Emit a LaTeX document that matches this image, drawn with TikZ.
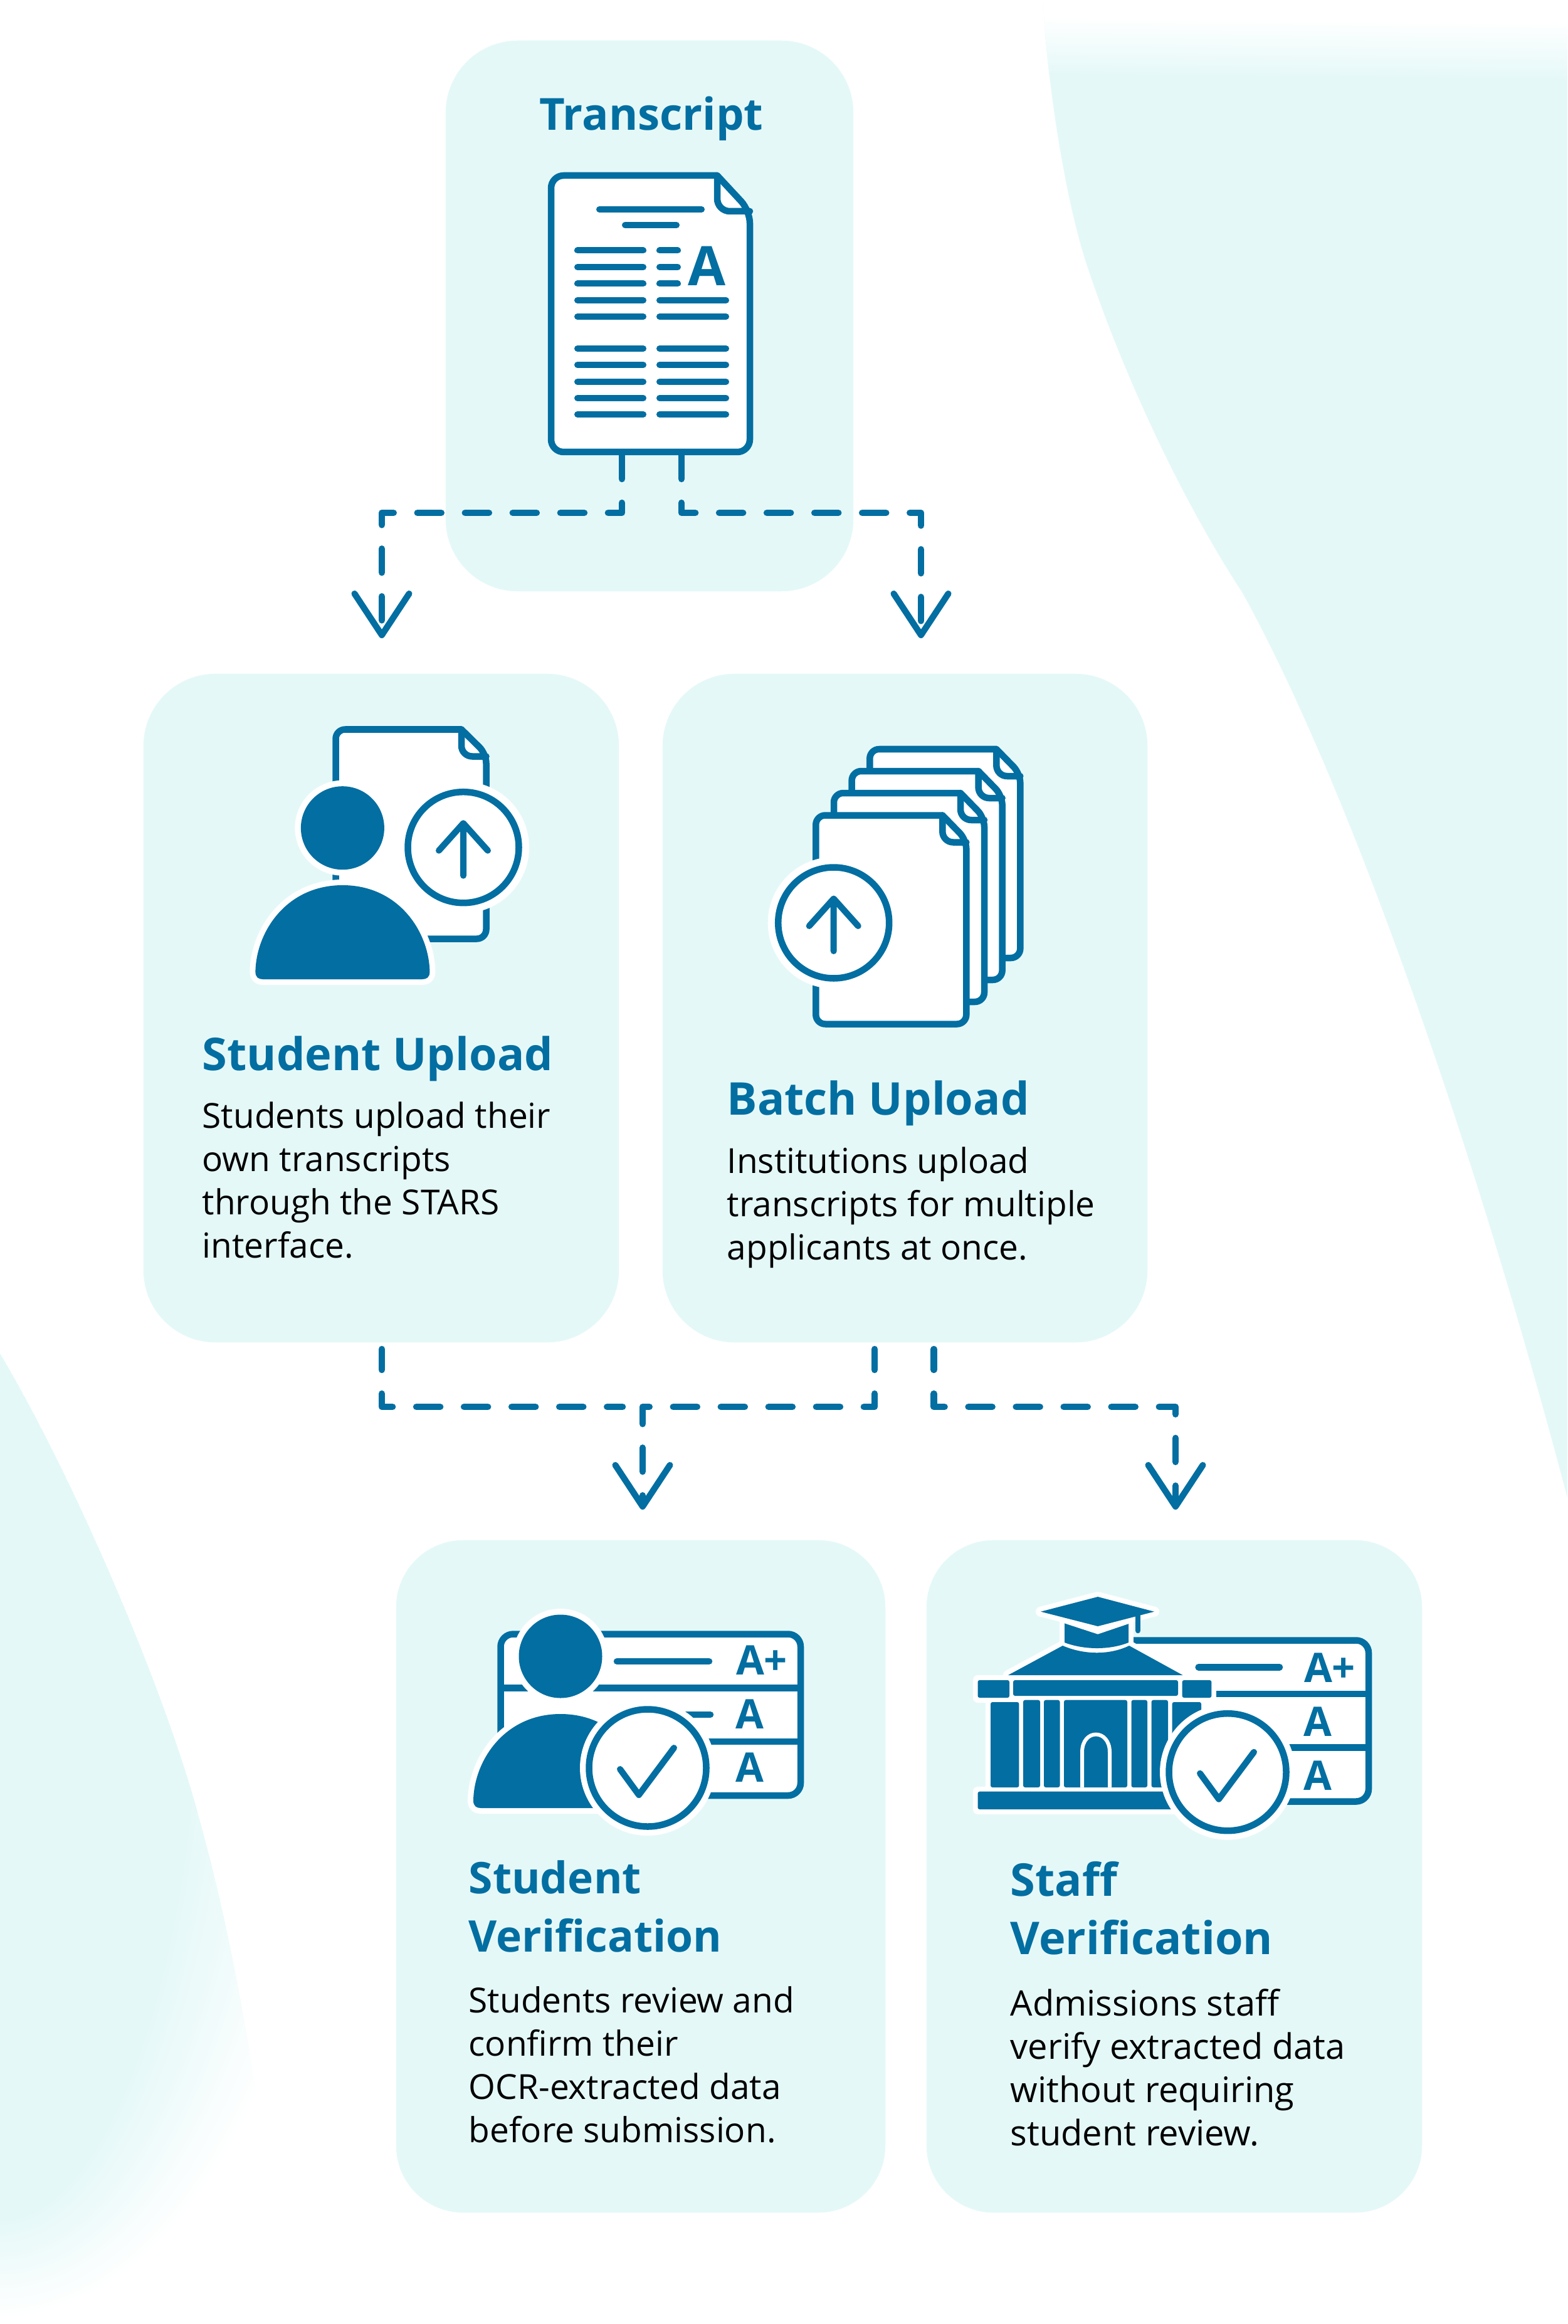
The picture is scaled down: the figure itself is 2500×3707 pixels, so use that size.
\documentclass[tikz,border=0pt]{standalone}
\usepackage{fontspec}
\usetikzlibrary{arrows.meta,shapes.geometric}
\setmainfont{Open Sans}
\definecolor{boxc}{HTML}{E5F8F8}
\definecolor{bluec}{HTML}{026EA1}
\tikzset{
  card/.style={fill=boxc,draw=none,rounded corners=#1,inner sep=0pt},
  head/.style={anchor=base west,inner sep=0pt,text=bluec,align=left,font=\bfseries\fontsize{7.2mm}{9.2mm}\selectfont},
  body/.style={anchor=base west,inner sep=0pt,text=black,align=left,font=\fontsize{5.5mm}{6.87mm}\selectfont},
  conn/.style={draw=bluec,line width=1.05mm,line cap=round,line join=round,dash pattern=on 3.8mm off 3.8mm,
     -{Straight Barb[length=6.6mm,width=8.7mm,line width=1mm,round]}},
  connend/.style={draw=bluec,line width=1.05mm,line cap=round,line join=round,dash pattern=on 3.8mm off 3.8mm},
  line/.style={draw=bluec,line width=1.05mm,line cap=round,line join=round},
  thin/.style={draw=bluec,line width=1mm,line cap=round,line join=round},
  ring/.style={fill=white,draw=white,line width=1.8mm,line join=round},
  grade/.style={inner sep=0pt,text=bluec,anchor=base,font=\bfseries\fontsize{6.5mm}{6.5mm}\selectfont},
}
% page with folded corner: x, y, w, h, fold w, fold h
\newcommand{\pageicon}[6]{%
  \begin{scope}[shift={(#1,#2)}]
    \draw[line,fill=white] (#3-#5,0) [rounded corners=1.5mm] -- (0,0) -- (0,#4) -- (#3,#4) -- (#3,#6) [sharp corners] -- cycle;
    \draw[line] (#3-#5,0) [rounded corners=1.7mm] -- (#3-#5,#6+4) -- (#3,#6+4);
  \end{scope}}
% circle with arrow: cx, cy
\newcommand{\uparrowdisc}[2]{%
  \begin{scope}[shift={(#1,#2)}]
    \fill[white] (0,0) circle[radius=105];
    \draw[line] (0,0) circle[radius=88.5];
    \draw[thin] (-39,5) -- (0,-38.5) -- (39,5) (0,-38.5) -- (0,45);
  \end{scope}}
% circle with tick: cx, cy
\newcommand{\tickdisc}[2]{%
  \begin{scope}[shift={(#1,#2)}]
    \fill[white] (0,0) circle[radius=108];
    \draw[line,line width=1.05mm] (0,0) circle[radius=93.5];
    \draw[thin] (-44,2) -- (-14,43) -- (42,-32);
  \end{scope}}
% person: head centre x, head centre y, body top y
\newcommand{\person}[3]{%
  \fill[white] (#1,#2) circle[radius=76];
  \fill[bluec] (#1,#2) circle[radius=66.5];
  \begin{scope}[shift={(#1,#3)}]
    \path[ring] (-139,138) .. controls (-138,75) and (-90,0) .. (0,0) .. controls (90,0) and (138,75) .. (139,138) .. controls (139,147) and (134,150) .. (127,150) -- (-127,150) .. controls (-134,150) and (-139,147) .. (-139,138) -- cycle;
    \fill[bluec] (-139,138) .. controls (-138,75) and (-90,0) .. (0,0) .. controls (90,0) and (138,75) .. (139,138) .. controls (139,147) and (134,150) .. (127,150) -- (-127,150) .. controls (-134,150) and (-139,147) .. (-139,138) -- cycle;
  \end{scope}}
\begin{document}
\begin{tikzpicture}[x=0.01cm,y=-0.01cm]
\useasboundingbox (0,0) rectangle (2500,3707);
\fill[white] (0,0) rectangle (2500,3707);

% ---- background shapes
\begin{scope}
  \clip (1664,0) .. controls (1668,120) and (1700,330) .. (1738,436)
     .. controls (1790,590) and (1880,790) .. (1982,946)
     .. controls (2150,1250) and (2350,1820) .. (2500,2389) -- (2500,0) -- cycle;
  \fill[boxc] (1600,0) rectangle (2500,2400);
  \begin{scope}[rotate around={-0.6:(2080,80)}]
    \fill[white] (1500,-200) rectangle (2700,32);
    \foreach \i in {0,...,27} {
      \pgfmathsetmacro{\pc}{\i/27*100}
      \pgfmathsetmacro{\ya}{30+3.4*\i}
      \fill[boxc!\pc!white] (1500,\ya) rectangle (2700,\ya+4);
    }
  \end{scope}
\end{scope}
\begin{scope}
  \clip (0,2160) .. controls (130,2380) and (270,2720) .. (317,2900)
     .. controls (370,3090) and (420,3350) .. (450,3707) -- (0,3707) -- cycle;
  \foreach \i in {0,...,28} {
    \pgfmathsetmacro{\pc}{\i/28*100}
    \pgfmathsetmacro{\rx}{561-(561-320)*\i/28}
    \pgfmathsetmacro{\ry}{1100-(1100-943)*\i/28}
    \fill[boxc!\pc!white] (0,2600) ellipse[x radius=\rx,y radius=\ry];
  }
\end{scope}

% ---- cards
\node[card=11.5mm,minimum width=6.5cm,minimum height=8.78cm] (transcriptcard) at (1036,504) {};
\node[card=11.5mm,minimum width=7.58cm,minimum height=10.66cm] (studentcard) at (608,1608) {};
\node[card=11.5mm,minimum width=7.73cm,minimum height=10.66cm] (batchcard) at (1443.5,1608) {};
\node[card=10.7mm,minimum width=7.8cm,minimum height=10.72cm] (sverifcard) at (1022,2993) {};
\node[card=10.7mm,minimum width=7.9cm,minimum height=10.72cm] (staffcard) at (1873,2993) {};

% ---- connectors
\coordinate (docL) at (992,726);
\coordinate (docR) at (1087,726);
\coordinate (tipA) at (609,1018);
\coordinate (tipB) at (1469,1018);
\coordinate (suB) at (609,2152);
\coordinate (baL) at (1395,2152);
\coordinate (baR) at (1489.5,2152);
\coordinate (merge) at (993,2244);
\coordinate (tipC) at (1025,2408);
\coordinate (tipD) at (1875,2408);
\draw[conn] (docL) -- (992,818) -- (609,818) -- (tipA);
\draw[conn] (docR) -- (1087,818) -- (1469,818) -- (tipB);
\draw[connend,dash phase=0.5mm] (suB) |- (merge);
\draw[conn,dash phase=0.5mm] (baL) -- (1395,2244) -- (1025,2244) -- (tipC);
\draw[conn,dash phase=0.5mm] (baR) -- (1489.5,2244) -- (1875,2244) -- (tipD);

% ---- transcript
\node[inner sep=0pt,anchor=base,text=bluec,font=\bfseries\fontsize{7.05mm}{9mm}\selectfont] (ttitle) at (1039,208) {Transcript};
\begin{scope}[shift={(879,280)}]
  \draw[line,fill=white] (265,0) [rounded corners=2mm] -- (0,0) -- (0,441) -- (317,441) -- (317,56) [sharp corners] -- cycle;
  \draw[line] (265,0) [rounded corners=2mm] -- (265,57) -- (317,57);
\end{scope}
\foreach \y/\a/\b in {334/952/1123,359/993/1083}
  \draw[thin] (\a+4,\y) -- (\b-4,\y);
\foreach \y in {399.5,426,452.4,479,505,556,582,609,635,661}
  \draw[thin] (921,\y) -- (1026,\y);
\foreach \y in {479,505,556,582,609,635,661}
  \draw[thin] (1052,\y) -- (1158,\y);
\foreach \y in {399.5,426,452.4}
  \draw[thin] (1052,\y) -- (1081,\y);
\node[inner sep=0pt,anchor=base,text=bluec,font=\bfseries\fontsize{8.7mm}{9mm}\selectfont] (tgrade) at (1128,456) {A};

% ---- student upload icon
\pageicon{535.5}{1163.5}{240}{334}{39.5}{39}
\person{546.4}{1320.7}{1412}
\uparrowdisc{739}{1351.7}
\node[head] (t1) at (322,1707) {Student Upload};
\node[body] (d1) at (322,2006) {Students upload their\\own transcripts\\through the STARS\\interface.};

% ---- batch upload icon
\pageicon{1387.3}{1195}{240}{333}{38}{39}
\pageicon{1358.6}{1230}{240}{333}{38}{39}
\pageicon{1330}{1265}{240}{333}{38}{39}
\pageicon{1301.3}{1300.5}{240}{333}{38}{39}
\uparrowdisc{1329.7}{1472}
\node[head] (t2) at (1159,1778) {Batch Upload};
\node[body] (d2) at (1159,2009) {Institutions upload\\transcripts for multiple\\applicants at once.};

% ---- student verification icon
\draw[line,fill=white,rounded corners=2mm] (798.5,2606.5) rectangle (1277,2864);
\draw[line,line cap=butt] (798.5,2692.7) -- (1277,2692.7) (798.5,2778) -- (1277,2778);
\draw[line] (984,2650) -- (1131,2650) (1085,2735) -- (1133,2735);
\node[grade] (g1) at (1215,2671) {A+};
\node[grade] (g2) at (1196,2757) {A};
\node[grade] (g3) at (1196,2842) {A};
\person{894}{2642}{2734}
\tickdisc{1033}{2820}
\node[head,font=\bfseries\fontsize{6.95mm}{9.2mm}\selectfont] (t3) at (747,3113) {Student\\Verification};
\node[body] (d3) at (747,3417) {Students review and\\confirm their\\OCR-extracted data\\before submission.};

% ---- staff verification icon
\fill[white] (1806,2621) rectangle (2178.5,2869);
\draw[line,rounded corners=2mm] (1806,2616.5) -- (2183,2616.5) -- (2183,2873.5) -- (1950,2873.5);
\draw[line,line cap=butt] (1940,2702) -- (2183,2702) (2056,2787.7) -- (2183,2787.7);
\draw[line] (1911.6,2659.3) -- (2041,2659.3);
\node[grade] (g4) at (2121,2683) {A+};
\node[grade] (g5) at (2101.5,2769) {A};
\node[grade] (g6) at (2101.5,2855) {A};
% white backing
\begin{scope}[draw=white,fill=white,line width=1.6mm,line join=round]
  \filldraw (1608,2672) -- (1695,2625) -- (1801,2625) -- (1886.5,2672) -- cycle;
  \filldraw (1559.5,2680) rectangle (1932.4,2708);
  \filldraw (1580,2711) rectangle (1916,2851);
  \filldraw (1559.5,2857.7) rectangle (1900,2886);
  \filldraw (1698,2587) -- (1800,2587) -- (1800,2622) -- (1698,2622) -- cycle;
  \filldraw (1660,2570.7) -- (1751,2547) -- (1841,2570.7) -- (1751,2594) -- cycle;
\end{scope}
% building
\fill[bluec] (1608,2672) -- (1695,2625) .. controls (1730,2640) and (1770,2640) .. (1801,2625) -- (1886.5,2672) -- cycle;
\foreach \a/\b/\t/\u in {1559.5/1610/2680/2708,1616/1879/2680/2705,1885.6/1932.4/2680/2708,
   1580/1625.4/2715/2851,1632/1659/2711.7/2851,1665/1690.5/2711.7/2851,1697/1798/2711.7/2851,
   1804.5/1830/2711.7/2851,1836.6/1863/2711.7/2851,1869.6/1916/2715/2851,1559.5/1900/2857.7/2886}
  \fill[bluec,rounded corners=0.3mm] (\a,\t) rectangle (\b,\u);
\draw[white,line width=0.6mm] (1726,2851) -- (1726,2795) .. controls (1726,2757) and (1770,2757) .. (1770,2795) -- (1770,2851);
% cap
\fill[bluec] (1698,2587) -- (1751,2605) -- (1800,2587) -- (1800,2620) .. controls (1770,2632) and (1730,2632) .. (1698,2620) -- cycle;
\draw[white,line width=0.7mm] (1690,2583) -- (1751,2603) -- (1810,2583);
\fill[bluec] (1660,2570.7) -- (1751,2547) -- (1841,2570.7) -- (1751,2594) -- cycle;
\draw[thin,line width=0.85mm] (1815,2577) -- (1815,2601);
\tickdisc{1958}{2826.7}
\node[head] (t4) at (1611,3117) {Staff\\Verification};
\node[body,font=\fontsize{5.6mm}{6.87mm}\selectfont] (d4) at (1611,3422) {Admissions staff\\verify extracted data\\without requiring\\student review.};
\end{tikzpicture}
\end{document}
